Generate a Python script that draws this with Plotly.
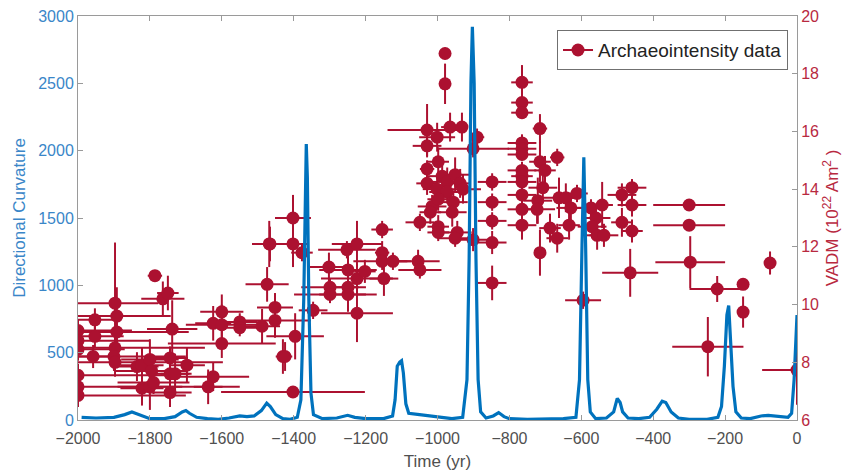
import plotly.graph_objects as go

# ---- Directional curvature curve (left axis) ----
curve_time = [-1990, -1950, -1900, -1870, -1850, -1830, -1800, -1760, -1730, -1710, -1700, -1690,
              -1670, -1640, -1610, -1580, -1550, -1530, -1510, -1490, -1475, -1465, -1450, -1430,
              -1410, -1390, -1380, -1372, -1368, -1365, -1362, -1358, -1352, -1345, -1320, -1280,
              -1250, -1230, -1200, -1150, -1125, -1118, -1112, -1105, -1100, -1095, -1088, -1080,
              -1050, -1020, -990, -960, -930, -918, -912, -907, -903, -898, -893, -887, -880,
              -865, -845, -830, -815, -800, -750, -700, -650, -615, -605, -598, -593, -588, -582,
              -575, -560, -530, -510, -500, -492, -485, -470, -440, -410, -390, -375, -365, -350,
              -330, -300, -250, -220, -210, -202, -195, -190, -185, -178, -170, -155, -130, -100,
              -80, -50, -25, -15, -8, -3, 0]
curvature = [20, 15, 20, 40, 60, 40, 10, 10, 25, 60, 70, 50,
             20, 10, 5, 15, 30, 25, 30, 70, 125, 100, 40, 10,
             5, 20, 150, 900, 1800, 2050, 1800, 900, 200, 40, 10, 15,
             35, 20, 10, 10, 30, 150, 400, 430, 440, 350, 120, 50,
             40, 30, 15, 10, 20, 300, 1200, 2500, 2920, 2500, 1200, 300, 60,
             15, 30, 55, 25, 10, 5, 10, 10, 20, 300, 1300, 1950, 1300, 300,
             60, 10, 15, 60, 160, 130, 60, 15, 10, 20, 80, 140, 130, 60,
             15, 5, 5, 20, 100, 400, 780, 850, 600, 250, 60, 15, 10, 30,
             35, 30, 20, 50, 300, 600, 780]

# ---- Archaeointensity data (right axis) ----
arch_time = [-2000, -2000, -2000, -2000, -2000, -2000,
             -1953, -1953, -1958, -1897, -1892, -1892, -1897, -1900, -1897,
             -1786, -1764, -1750, -1738, -1836, -1822, -1800, -1795, -1822, -1800, -1790,
             -1744, -1744, -1744, -1697, -1730, -1624, -1638, -1600, -1624, -1600, -1600,
             -1550, -1550, -1488, -1474, -1452, -1452, -1430, -1466, -1402,
             -1402, -1468, -1402, -1377, -1396, -1424, -1346,
             -1302, -1299, -1299, -1252, -1224, -1249, -1224, -1202, -1249, -1249, -1224,
             -1154, -1154, -1154, -1124, -1149, -1054, -1049,
             -979, -979, -1029, -965, -932, -1001, -1029, -890, -901, -998, -1029, -1029,
             -987, -973, -951, -937, -1001, -973, -929, -1015, -998, -956, -1020, -1049,
             -998, -959, -945, -998, -951, -901, -848, -848, -848, -848, -848,
             -765, -765, -765, -715, -765, -765, -765, -715, -701, -667, -765, -765, -765,
             -765, -765, -765, -707, -721, -723, -687, -667, -715,
             -662, -643, -629, -612, -634, -573, -559, -542, -570, -556, -537,
             -487, -487, -459, -459, -459, -464, -595,
             -300, -300, -297, -222, -150, -150, -75, -248, 0]
vadm = [9.1, 8.75, 8.45, 7.55, 7.15, 6.85,
        9.47, 8.9, 8.2, 10.05, 9.6, 9.05, 8.5, 8.2, 8.0,
        11.0, 10.2, 10.4, 9.15, 7.85, 7.9, 8.1, 7.7, 7.1, 7.15, 7.3,
        7.6, 6.95, 8.15, 7.9, 7.6, 7.5, 7.15, 9.75, 9.35, 9.3, 8.65,
        9.4, 9.2, 9.25, 10.7, 9.9, 9.45, 8.2, 12.1, 6.97,
        13.0, 12.1, 12.1, 11.8, 8.9, 8.2, 9.8,
        11.3, 10.6, 10.35, 11.9, 12.1, 11.2, 10.9, 11.15, 10.6, 10.35, 9.7,
        12.6, 11.8, 11.5, 11.5, 10.9, 11.5, 11.2,
        18.7, 17.65, 16.05, 16.15, 16.15, 15.8, 15.5, 15.8, 15.4, 14.95, 14.7, 14.2,
        14.45, 14.25, 14.5, 14.2, 14.0, 13.9, 14.0, 13.4, 13.65, 13.55, 13.2, 12.85,
        12.7, 13.2, 12.5, 12.5, 12.3, 12.25, 14.25, 13.55, 12.9, 12.15, 10.75,
        17.7, 17.0, 16.65, 16.1, 15.6, 15.4, 15.2, 14.95, 14.65, 15.1, 14.65, 14.45, 14.25,
        13.8, 13.3, 12.75, 14.05, 13.6, 13.3, 12.65, 12.3, 11.8,
        13.7, 13.7, 13.35, 13.85, 12.75, 13.35, 13.0, 13.45, 12.7, 12.4, 12.4,
        13.8, 12.85, 14.05, 13.45, 12.55, 11.1, 10.15,
        13.45, 12.75, 11.47, 10.54, 10.7, 9.74, 11.44, 8.54, 7.73]
time_err = [150, 200, 130, 250, 450, 300,
            60, 80, 70, 120, 150, 200, 250, 200, 300,
            20, 60, 30, 70, 60, 60, 80, 100, 60, 90, 100,
            60, 60, 50, 50, 40, 100, 40, 60, 50, 100, 150,
            50, 50, 50, 60, 50, 100, 20, 50, 200,
            50, 40, 40, 30, 80, 20, 40,
            60, 80, 100, 80, 70, 80, 100, 30, 50, 80, 100,
            30, 20, 80, 40, 40, 60, 60,
            10, 10, 110, 25, 15, 50, 40, 20, 100, 30, 20, 30,
            40, 40, 40, 30, 40, 50, 50, 40, 30, 40, 30, 40,
            30, 40, 40, 30, 50, 50, 40, 40, 40, 40, 40,
            30, 30, 30, 20, 40, 40, 40, 30, 30, 20, 40, 30, 40,
            40, 40, 40, 40, 40, 50, 30, 30, 10,
            50, 30, 40, 30, 30, 40, 40, 30, 40, 30, 40,
            40, 30, 40, 40, 30, 78, 50,
            100, 100, 97, 77, 5, 10, 10, 99, 97]
vadm_err = [0.4, 0.4, 0.4, 0.4, 0.4, 0.4,
            0.4, 0.4, 0.4, 2.1, 1.0, 0.7, 0.5, 0.5, 0.5,
            0.15, 0.6, 0.6, 1.0, 0.5, 0.6, 0.7, 0.5, 0.6, 0.8, 0.4,
            0.8, 0.5, 0.4, 0.6, 0.7, 0.5, 0.6, 0.6, 0.6, 0.7, 0.5,
            0.3, 0.3, 0.6, 0.6, 0.5, 0.6, 0.6, 0.6, 0.15,
            0.8, 0.8, 0.8, 0.3, 0.8, 0.5, 0.3,
            0.5, 0.3, 0.3, 0.3, 0.8, 0.6, 0.5, 0.4, 0.4, 0.6, 1.0,
            0.3, 0.4, 0.3, 0.3, 0.6, 0.4, 0.3,
            0.2, 0.7, 0.9, 0.5, 0.5, 0.5, 0.4, 0.3, 0.3, 0.5, 0.3, 0.4,
            0.4, 0.5, 0.6, 0.5, 0.5, 0.4, 0.5, 0.4, 0.4, 0.4, 0.4, 0.3,
            0.4, 0.5, 0.4, 0.3, 0.3, 0.4, 0.3, 0.3, 0.3, 0.4, 0.6,
            0.6, 0.2, 0.2, 0.5, 0.3, 0.2, 0.2, 0.7, 0.5, 0.3, 0.3, 0.3, 0.3,
            0.3, 0.4, 0.5, 0.5, 0.8, 0.5, 0.5, 0.5, 0.8,
            0.7, 0.5, 0.5, 0.3, 0.5, 0.3, 0.4, 0.8, 0.4, 0.5, 0.4,
            0.4, 0.5, 0.3, 0.4, 0.4, 0.83, 0.3,
            0.2, 0.2, 0.9, 0.45, 0.1, 0.54, 0.4, 1.03, 1.2]

x_ticks = [-2000, -1800, -1600, -1400, -1200, -1000, -800, -600, -400, -200, 0]

BLUE = "#0072BD"
RED = "#AC1130"
FONT = "Liberation Sans, Arial, sans-serif"

fig = go.Figure()

fig.add_trace(go.Scatter(
    x=arch_time, y=vadm, mode="markers", yaxis="y", showlegend=False,
    marker=dict(color=RED, size=13),
    error_x=dict(type="data", array=time_err, color=RED, thickness=2, width=0),
    error_y=dict(type="data", array=vadm_err, color=RED, thickness=2, width=0),
))
fig.add_trace(go.Scatter(
    x=[None], y=[None], mode="lines+markers", yaxis="y", name="Archaeointensity data",
    marker=dict(color=RED, size=13), line=dict(color=RED, width=2),
))
fig.add_trace(go.Scatter(
    x=curve_time, y=curvature, mode="lines", yaxis="y2", showlegend=False,
    line=dict(color=BLUE, width=3.2),
))

fig.update_layout(
    width=853, height=474,
    margin=dict(l=78, r=56, t=16, b=54),
    paper_bgcolor="white", plot_bgcolor="white",
    font=dict(family=FONT, size=16),
    xaxis=dict(
        range=[-2000, 0], tickvals=x_ticks, ticks="inside", ticklen=5,
        showline=True, linecolor="#9a9a9a", linewidth=1, mirror="ticks",
        tickcolor="#9a9a9a", showgrid=False, zeroline=False, automargin=False,
        ticklabelstandoff=4,
        tickfont=dict(size=16, color="#505050"),
        title=dict(text="Time (yr)", font=dict(size=17, color="#505050"), standoff=8),
    ),
    yaxis=dict(
        side="right", range=[6, 20], dtick=2, ticks="inside", ticklen=5,
        showline=True, linecolor="#9a9a9a", linewidth=1, tickcolor="#9a9a9a",
        showgrid=False, zeroline=False, automargin=False,
        tickfont=dict(size=16, color="#B8293F"),
        title=dict(text="VADM (10<sup>22</sup> Am<sup>2</sup> )",
                   font=dict(size=17, color="#B8293F"), standoff=8),
    ),
    yaxis2=dict(
        overlaying="y", side="left", range=[0, 3000], dtick=500, ticks="inside", ticklen=5,
        showline=True, linecolor="#9a9a9a", linewidth=1, tickcolor="#9a9a9a",
        showgrid=False, zeroline=False, automargin=False,
        tickfont=dict(size=16, color="#3A86C8"),
        title=dict(text="Directional Curvature", font=dict(size=17, color="#3A86C8"), standoff=8),
    ),
    legend=dict(
        x=0.9875, xanchor="right", y=0.965, yanchor="top",
        bgcolor="white", bordercolor="#707070", borderwidth=1,
        font=dict(size=19, color="#222222"), itemwidth=30,
    ),
)

fig.write_html("out.html")
